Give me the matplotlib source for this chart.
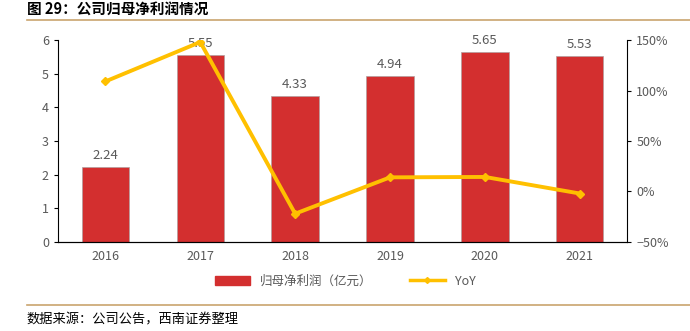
import matplotlib
matplotlib.use("Agg")
import matplotlib.pyplot as plt
from matplotlib.lines import Line2D
from matplotlib.patches import Patch

plt.rcParams['font.family'] = ['Noto Sans CJK SC', 'DejaVu Sans']

years = ['2016', '2017', '2018', '2019', '2020', '2021']
profit = [2.24, 5.55, 4.33, 4.94, 5.65, 5.53]
yoy = [109, 148, -22, 14, 14.4, -2]

bar_color = '#D32F2F'
line_color = '#FFC000'
text_gray = '#595959'

fig = plt.figure(figsize=(6.9, 3.31), dpi=100)
ax = fig.add_axes([0.084, 0.269, 0.825, 0.61])
x = list(range(len(years)))

ax.bar(x, profit, width=0.5, color=bar_color, edgecolor='#B0A0A0', linewidth=0.5, zorder=2)
for xi, v in zip(x, profit):
    ax.text(xi, v + 0.15, f'{v:.2f}', ha='center', va='bottom', fontsize=9.5, color=text_gray)

ax.set_xlim(-0.5, 5.5)
ax.set_ylim(0, 6)
ax.set_xticks(x)
ax.set_xticklabels(years)
ax.set_yticks(range(0, 7))
for s in ['top']:
    ax.spines[s].set_visible(False)
ax.spines['right'].set_visible(False)
ax.tick_params(axis='x', length=0, colors=text_gray, labelsize=9, pad=6)
ax.tick_params(axis='y', length=3, colors='black', labelcolor=text_gray, labelsize=9)

ax2 = ax.twinx()
ax2.plot(x, yoy, color=line_color, linewidth=2.8, marker='D', markersize=4, zorder=3)
ax2.set_ylim(-50, 150)
ax2.set_yticks([-50, 0, 50, 100, 150])
ax2.set_yticklabels(['−50%', '0%', '50%', '100%', '150%'])
ax2.spines['top'].set_visible(False)
ax2.spines['left'].set_visible(False)
ax2.tick_params(axis='y', length=3, colors='black', labelcolor=text_gray, labelsize=9)

handles = [Patch(color=bar_color),
           Line2D([], [], color=line_color, linewidth=2.5, marker='D', markersize=3)]
fig.legend(handles, ['归母净利润（亿元）', 'YoY'], loc='center', bbox_to_anchor=(0.5, 0.15),
           ncol=2, frameon=False, fontsize=9, labelcolor=text_gray, handlelength=2.8,
           columnspacing=3)

fig.text(0.039, 0.97, '图 29：公司归母净利润情况', fontsize=10.5, fontweight='bold', va='center')
fig.add_artist(Line2D([0.039, 1.0], [0.94, 0.94], color='#C9A46E', linewidth=1.2))
fig.add_artist(Line2D([0.039, 1.0], [0.078, 0.078], color='#C9A46E', linewidth=1.2))
fig.text(0.039, 0.033, '数据来源：公司公告，西南证券整理', fontsize=9.5, style='italic', va='center')

fig.savefig('out.png', dpi=100)
